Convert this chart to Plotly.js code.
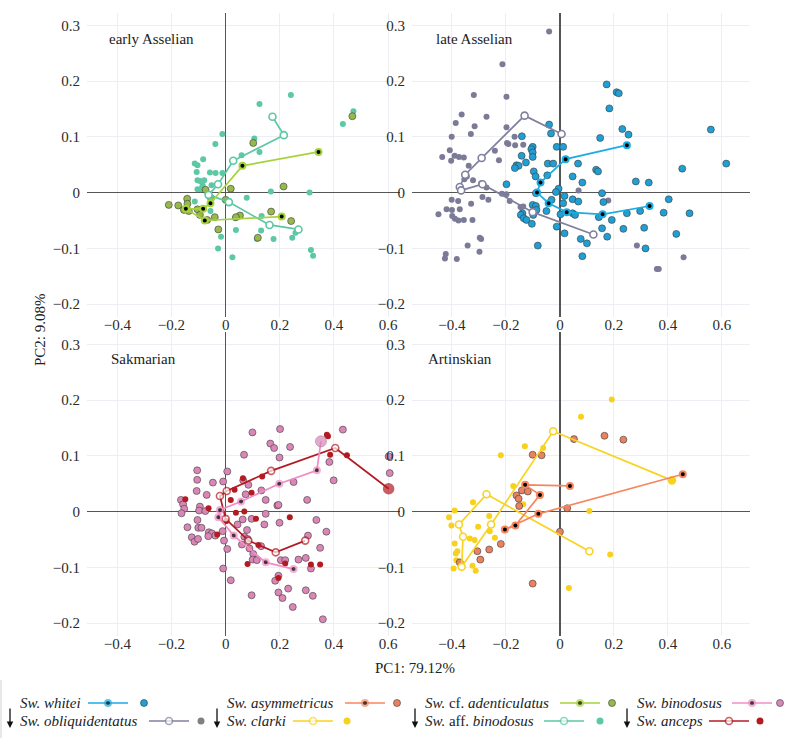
<!DOCTYPE html>
<html>
<head>
<meta charset="utf-8">
<script src="https://cdn.plot.ly/plotly-3.0.1.min.js"></script>
<style>
  html, body { margin: 0; padding: 0; background: #fff; }
  #chart { width: 797px; height: 738px; }
</style>
</head>
<body>
<div id="chart"></div>
<script>
// ---- early Asselian ----
const eaAdentTrajX = [0.343, 0.062, -0.056, -0.083, -0.147, -0.077, 0.207];
const eaAdentTrajY = [0.073, 0.048, -0.019, -0.029, -0.029, -0.050, -0.043];
const eaAdentPtsX = [0.468, 0.102, 0.214, 0.019, -0.074, 0.000, -0.054, -0.142, -0.141, -0.175, -0.210, -0.154, -0.136, -0.104, -0.095, -0.068, -0.040, -0.027, 0.053, 0.038, 0.168, 0.242, 0.119];
const eaAdentPtsY = [0.137, 0.089, 0.011, 0.007, 0.005, -0.013, -0.010, -0.011, -0.020, -0.023, -0.022, -0.031, -0.033, -0.030, -0.040, -0.049, -0.044, -0.066, -0.041, -0.044, -0.034, -0.051, -0.081];
const eaAffTrajX = [0.173, 0.215, 0.028, -0.028, -0.063, 0.012, 0.162, 0.269];
const eaAffTrajY = [0.136, 0.103, 0.057, 0.015, -0.004, -0.017, -0.058, -0.066];
const eaAffPtsX = [0.241, 0.125, 0.472, 0.433, -0.012, -0.038, -0.083, -0.114, -0.104, -0.107, -0.058, -0.037, -0.012, 0.059, 0.106, 0.125, -0.104, -0.095, -0.079, -0.085, -0.052, -0.104, -0.093, -0.114, -0.056, 0.078, 0.167, 0.310, 0.133, 0.131, 0.038, 0.035, 0.177, 0.246, 0.258, -0.017, -0.028, 0.025, 0.315, 0.323, 0.115];
const eaAffPtsY = [0.175, 0.159, 0.146, 0.123, 0.105, 0.087, 0.060, 0.052, 0.049, 0.037, 0.036, 0.035, 0.035, 0.067, 0.097, 0.073, 0.022, 0.021, 0.022, 0.013, 0.013, 0.006, 0.006, -0.016, -0.033, -0.009, 0.002, 0.000, -0.042, -0.068, -0.067, -0.046, -0.083, -0.081, -0.072, -0.079, -0.100, -0.116, -0.103, -0.113, -0.083];

// ---- late Asselian ----
const laWhiteiTrajX = [0.248, 0.021, -0.072, -0.085, -0.042, 0.025, 0.158, 0.332];
const laWhiteiTrajY = [0.085, 0.060, 0.018, 0.000, -0.019, -0.035, -0.039, -0.024];
const laObliqTrajX = [0.006, -0.131, -0.290, -0.351, -0.371, -0.366, -0.287, -0.101, 0.124];
const laObliqTrajY = [0.105, 0.138, 0.062, 0.032, 0.010, 0.004, 0.015, -0.035, -0.075];
const laObliqPtsX = [-0.040, -0.213, -0.198, -0.319, -0.364, -0.272, -0.198, -0.386, -0.401, -0.316, -0.330, -0.408, -0.436, -0.390, -0.374, -0.356, -0.403, -0.338, -0.345, -0.354, -0.322, -0.272, -0.292, -0.241, -0.226, -0.196, -0.191, -0.168, -0.166, -0.136, -0.198, -0.401, -0.377, -0.329, -0.265, -0.186, -0.450, -0.420, -0.400, -0.371, -0.399, -0.389, -0.376, -0.356, -0.324, -0.342, -0.297, -0.292, -0.298, -0.382, -0.423, -0.426, -0.215, -0.146, -0.287, 0.285, 0.359, 0.366, 0.458, 0.179, 0.069, -0.136];
const laObliqPtsY = [0.289, 0.230, 0.172, 0.175, 0.140, 0.136, 0.117, 0.125, 0.100, 0.119, 0.105, 0.076, 0.064, 0.066, 0.064, 0.063, 0.057, 0.048, 0.029, 0.024, 0.022, 0.009, 0.017, 0.075, 0.058, 0.089, 0.087, 0.100, 0.085, 0.086, -0.003, -0.013, -0.015, -0.020, -0.013, -0.015, -0.039, -0.030, -0.031, -0.030, -0.042, -0.047, -0.050, -0.049, -0.049, -0.095, -0.081, -0.083, -0.106, -0.119, -0.110, -0.118, -0.002, -0.026, -0.008, -0.095, -0.137, -0.137, -0.116, -0.014, 0.004, -0.025];
const laWhiteiPtsX = [0.173, 0.210, 0.218, 0.183, 0.231, 0.254, 0.559, 0.149, 0.616, 0.453, -0.040, -0.033, -0.141, -0.101, -0.106, -0.101, -0.101, -0.142, -0.161, -0.126, -0.153, -0.167, -0.198, -0.097, -0.090, -0.045, -0.025, -0.047, -0.012, 0.012, 0.067, 0.047, 0.083, 0.134, 0.141, 0.281, 0.329, -0.005, -0.089, -0.031, -0.101, -0.089, -0.099, -0.139, -0.145, -0.134, -0.124, -0.104, 0.002, -0.012, 0.017, 0.047, 0.047, 0.068, 0.156, 0.161, 0.144, 0.156, 0.192, 0.235, 0.175, 0.248, 0.297, 0.312, 0.384, 0.403, 0.431, 0.480, 0.317, 0.077, 0.100, 0.083, -0.082, -0.050, 0.017, 0.012, -0.015, 0.056, -0.087];
const laWhiteiPtsY = [0.194, 0.180, 0.178, 0.151, 0.114, 0.104, 0.113, 0.098, 0.052, 0.043, 0.122, 0.106, 0.101, 0.082, 0.078, 0.072, 0.064, 0.066, 0.049, 0.054, 0.048, 0.044, 0.015, 0.038, 0.029, 0.052, 0.052, 0.031, 0.082, 0.082, 0.052, 0.029, 0.018, 0.041, 0.038, 0.020, 0.018, 0.007, -0.001, -0.013, -0.022, -0.024, -0.040, -0.037, -0.040, -0.046, -0.049, -0.056, -0.039, -0.061, -0.073, -0.012, -0.037, -0.016, -0.001, -0.017, -0.044, -0.064, -0.049, -0.065, -0.079, -0.037, -0.033, -0.063, -0.036, -0.012, -0.074, -0.037, -0.100, -0.083, -0.091, -0.114, -0.095, -0.033, -0.006, -0.019, 0.001, -0.040, -0.031];

// ---- Sakmarian ----
const skBinodTrajX = [0.352, 0.337, 0.198, 0.057, -0.021, -0.027, 0.030, 0.148, 0.251];
const skBinodTrajY = [0.126, 0.074, 0.050, 0.018, 0.003, -0.010, -0.043, -0.091, -0.103];
const skAncepsTrajX = [0.602, 0.405, 0.168, 0.004, -0.021, 0.000, 0.084, 0.185, 0.294];
const skAncepsTrajY = [0.041, 0.114, 0.073, 0.037, 0.028, -0.013, -0.052, -0.073, -0.052];
const skBinodPtsX = [0.099, 0.201, 0.165, 0.179, 0.238, 0.433, 0.068, 0.199, 0.383, 0.399, 0.602, 0.606, -0.105, -0.105, -0.107, -0.070, -0.047, -0.009, 0.006, 0.084, 0.065, 0.074, 0.132, 0.148, 0.191, 0.251, 0.301, -0.165, -0.157, -0.153, -0.163, -0.095, -0.098, -0.075, -0.141, -0.125, -0.115, -0.102, -0.104, -0.101, -0.089, -0.062, -0.051, -0.038, -0.064, -0.011, 0.006, -0.006, -0.009, 0.019, 0.044, 0.063, 0.096, 0.079, 0.069, 0.081, 0.088, 0.060, 0.102, 0.100, 0.115, 0.131, 0.195, 0.199, 0.204, 0.220, 0.195, 0.183, 0.195, 0.210, 0.231, 0.248, 0.096, 0.296, 0.322, 0.359, 0.315, 0.304, 0.335, 0.349, 0.372, 0.296, 0.269, 0.143, 0.148];
const skBinodPtsY = [0.142, 0.148, 0.122, 0.114, 0.116, 0.147, 0.102, 0.097, 0.089, 0.056, 0.099, 0.069, 0.074, 0.057, 0.037, 0.030, 0.052, 0.054, 0.072, 0.048, 0.056, 0.031, 0.038, 0.021, 0.011, 0.053, 0.021, 0.021, 0.013, 0.005, -0.003, 0.009, 0.002, 0.001, -0.028, -0.046, -0.054, -0.049, -0.015, -0.029, -0.029, -0.037, -0.039, -0.043, -0.044, -0.035, -0.067, -0.052, -0.102, -0.123, -0.023, -0.014, -0.013, -0.033, -0.045, -0.049, -0.066, -0.059, -0.076, -0.086, -0.087, -0.062, 0.012, -0.020, -0.087, -0.087, -0.115, -0.124, -0.145, -0.155, -0.138, -0.171, -0.150, -0.141, -0.151, -0.193, -0.102, -0.043, -0.015, -0.065, -0.036, -0.083, -0.086, -0.023, -0.004];
const skAncepsPtsX = [0.374, 0.378, 0.386, 0.448, -0.149, -0.063, -0.031, 0.019, 0.033, 0.064, 0.096, 0.135, 0.069, 0.038, 0.112, 0.237, 0.121, 0.081, 0.195, 0.220, 0.315, 0.349, 0.003];
const skAncepsPtsY = [0.138, 0.135, 0.102, 0.101, 0.022, 0.006, -0.041, 0.021, 0.039, 0.060, 0.034, 0.063, 0.000, -0.002, -0.013, -0.010, -0.060, -0.094, -0.119, -0.093, -0.095, -0.095, -0.017];

// ---- Artinskian ----
const arAsymTrajX = [0.037, -0.129, -0.074, -0.165, -0.204, -0.080, 0.455];
const arAsymTrajY = [0.046, 0.048, 0.030, -0.025, -0.032, -0.004, 0.067];
const arClarkiTrajX = [0.109, -0.272, -0.374, -0.359, -0.364, -0.255, -0.025, 0.415];
const arClarkiTrajY = [-0.071, 0.031, -0.023, -0.045, -0.099, -0.023, 0.144, 0.056];
const arAsymPtsX = [0.052, 0.165, 0.235, -0.101, -0.068, -0.141, -0.161, -0.153, -0.151, -0.119, 0.027, 0.000, -0.219, -0.262, -0.306, -0.295, -0.371, -0.101];
const arAsymPtsY = [0.130, 0.136, 0.129, 0.102, 0.101, 0.038, 0.029, 0.023, 0.010, 0.036, 0.006, -0.036, -0.058, -0.068, -0.071, -0.086, -0.091, -0.129];
const arClarkiPtsX = [0.192, 0.078, -0.130, -0.062, -0.219, -0.173, -0.136, -0.322, -0.390, -0.411, -0.402, -0.262, -0.303, -0.260, -0.241, -0.390, -0.380, -0.386, -0.384, -0.394, -0.334, -0.316, -0.324, -0.312, 0.109, 0.186, 0.033];
const arClarkiPtsY = [0.201, 0.170, 0.117, 0.114, 0.101, 0.046, 0.013, 0.017, 0.002, -0.010, -0.025, -0.008, -0.027, -0.035, -0.047, -0.057, -0.071, -0.075, -0.087, -0.102, -0.048, -0.051, -0.097, -0.106, 0.001, -0.077, -0.137];

const xTicks = [-0.4, -0.2, 0, 0.2, 0.4, 0.6];
const yTicks = [-0.2, -0.1, 0, 0.1, 0.2, 0.3];
const panelNames = ['early Asselian', 'late Asselian', 'Sakmarian', 'Artinskian'];

// species styles: solid = black-dot trajectory + outlined points, open = open-circle trajectory
const sp = {
  whitei:   { name: '<i>Sw. whitei</i>', line: '#1aade4', pt: '#1f9fd4', solid: true },
  obliq:    { name: '<i>Sw. obliquidentatus</i>', line: '#80809e', pt: '#7b7b97', solid: false, legPt: '#808080' },
  asym:     { name: '<i>Sw. asymmetricus</i>', line: '#f7865f', pt: '#ea825f', solid: true },
  clarki:   { name: '<i>Sw. clarki</i>', line: '#f8d321', pt: '#f7d11c', solid: false },
  adent:    { name: '<i>Sw.</i> cf. <i>adenticulatus</i>', line: '#a6d33c', pt: '#97b84b', solid: true },
  aff:      { name: '<i>Sw.</i> aff. <i>binodosus</i>', line: '#5bc7a3', pt: '#5cc8a4', solid: false },
  binod:    { name: '<i>Sw. binodosus</i>', line: '#f28cc4', pt: '#da87b7', solid: true },
  anceps:   { name: '<i>Sw. anceps</i>', line: '#b31b22', pt: '#b31b22', solid: false }
};

function pts(s, x, y, ax) {
  const m = s.solid
    ? { size: 7, color: s.pt, line: { color: '#3c3c3c', width: 0.6 } }
    : { size: 6, color: s.pt, line: { width: 0 } };
  return { type: 'scatter', mode: 'markers', x: x, y: y, xaxis: 'x' + ax, yaxis: 'y' + ax,
           marker: m, showlegend: false, hoverinfo: 'skip', cliponaxis: false };
}
function traj(s, x, y, ax) {
  const m = s.solid
    ? { size: 6, color: '#000', line: { color: s.line, width: 2 } }
    : { size: 7, color: '#fff', line: { color: s.line, width: 1.6 } };
  return { type: 'scatter', mode: 'lines+markers', x: x, y: y, xaxis: 'x' + ax, yaxis: 'y' + ax,
           line: { color: s.line, width: 1.7 }, marker: m, showlegend: false, hoverinfo: 'skip' };
}

// Sakmarian trajectories start with a larger filled specimen
const skAnceps = traj(sp.anceps, skAncepsTrajX, skAncepsTrajY, '3');
skAnceps.marker.size = skAncepsTrajX.map((v, i) => i === 0 ? 10 : 7);
skAnceps.marker.color = skAncepsTrajX.map((v, i) => i === 0 ? sp.anceps.pt : '#fff');
const skBinod = traj(sp.binod, skBinodTrajX, skBinodTrajY, '3');
skBinod.marker.size = skBinodTrajX.map((v, i) => i === 0 ? 11 : 6);
skBinod.marker.color = skBinodTrajX.map((v, i) => i === 0 ? sp.binod.pt : '#000');
skBinod.marker.line = { color: skBinodTrajX.map((v, i) => i === 0 ? '#9a6f86' : sp.binod.line),
                        width: skBinodTrajX.map((v, i) => i === 0 ? 0.8 : 2) };

const data = [
  pts(sp.aff, eaAffPtsX, eaAffPtsY, ''),
  pts(sp.adent, eaAdentPtsX, eaAdentPtsY, ''),
  traj(sp.aff, eaAffTrajX, eaAffTrajY, ''),
  traj(sp.adent, eaAdentTrajX, eaAdentTrajY, ''),

  pts(sp.obliq, laObliqPtsX, laObliqPtsY, '2'),
  pts(sp.whitei, laWhiteiPtsX, laWhiteiPtsY, '2'),
  traj(sp.obliq, laObliqTrajX, laObliqTrajY, '2'),
  traj(sp.whitei, laWhiteiTrajX, laWhiteiTrajY, '2'),

  pts(sp.binod, skBinodPtsX, skBinodPtsY, '3'),
  pts(sp.anceps, skAncepsPtsX, skAncepsPtsY, '3'),
  skAnceps,
  skBinod,

  pts(sp.clarki, arClarkiPtsX, arClarkiPtsY, '4'),
  pts(sp.asym, arAsymPtsX, arAsymPtsY, '4'),
  traj(sp.clarki, arClarkiTrajX, arClarkiTrajY, '4'),
  traj(sp.asym, arAsymTrajX, arAsymTrajY, '4')
];
// clarki trajectory ends on a filled point
const arClarki = data[14];
arClarki.marker.color = arClarkiTrajX.map((v, i) => i === arClarkiTrajX.length - 1 ? sp.clarki.pt : '#fff');

// page pixels -> paper coords
const W = 797, H = 738;
const px = v => v / W;
const py = v => 1 - v / H;

const font = 'Liberation Serif, Times New Roman, serif';
function fmt(v) {
  if (v === 0) return '0';
  return (v < 0 ? '\u2212' : '') + Math.abs(v).toFixed(1);
}
function axisX(dom, rng, anchor) {
  return { domain: dom, range: rng, anchor: anchor, tickvals: xTicks, ticktext: xTicks.map(fmt),
           showgrid: true, gridcolor: '#eceef3', gridwidth: 1,
           zeroline: true, zerolinecolor: '#555', zerolinewidth: 1.4,
           showline: false, ticks: '', ticklabelstandoff: -3,
           tickfont: { family: font, size: 15, color: '#2b2b2b' } };
}
function axisY(dom, anchor) {
  return { domain: dom, range: [-0.223, 0.322], anchor: anchor, tickvals: yTicks, ticktext: yTicks.map(fmt),
           showgrid: true, gridcolor: '#eceef3', gridwidth: 1,
           zeroline: true, zerolinecolor: '#555', zerolinewidth: 1.4,
           showline: false, ticks: 'outside', ticklen: 3, tickcolor: 'rgba(0,0,0,0)',
           tickfont: { family: font, size: 15, color: '#2b2b2b' } };
}

const leftDom = [px(87), px(400)];
const rightDom = [px(412), px(750)];
const topDom = [py(317), py(13)];
const botDom = [py(636), py(332)];
const leftRange = [-0.512, 0.644];
const rightRange = [-0.548, 0.704];

const annotations = [];
const labelPos = [[107, 39], [434, 39], [109, 359], [426, 359]];
panelNames.forEach((t, i) => {
  annotations.push({ text: t, xref: 'paper', yref: 'paper', x: px(labelPos[i][0]), y: py(labelPos[i][1]),
    xanchor: 'left', yanchor: 'middle', showarrow: false, font: { family: font, size: 15, color: '#222' } });
});
annotations.push({ text: 'PC1: 79.12%', xref: 'paper', yref: 'paper', x: px(415), y: py(668),
  xanchor: 'center', yanchor: 'middle', showarrow: false, font: { family: font, size: 15, color: '#222' } });
annotations.push({ text: 'PC2: 9.08%', xref: 'paper', yref: 'paper', x: px(40), y: py(330), textangle: -90,
  xanchor: 'center', yanchor: 'middle', showarrow: false, font: { family: font, size: 15, color: '#222' } });

// legend layout (text x, row, line start, dot x)
const legendOrder = ['whitei', 'obliq', 'asym', 'clarki', 'adent', 'aff', 'binod', 'anceps'];
const legTextX = [18, 18, 225, 225, 423, 423, 635, 635];
const legLineX = [88, 149, 345, 293, 560, 544, 732, 709];
const legDotX = [144, 201, 397, 347, 612, 600, 780, 760];
const legRowY = [703, 721];
const arrowX = [10, 217, 415, 627];

legendOrder.forEach((k, i) => {
  const s = sp[k];
  const yy = legRowY[i % 2];
  annotations.push({ text: s.name, xref: 'paper', yref: 'paper', x: px(legTextX[i]), y: py(yy),
    xanchor: 'left', yanchor: 'middle', showarrow: false, font: { family: font, size: 15, color: '#222' } });
  const l = traj(s, [legLineX[i], legLineX[i] + 20, legLineX[i] + 40], [yy, yy, yy], '5');
  l.marker = Object.assign({}, l.marker);
  l.marker.size = [0, s.solid ? 6 : 7, 0];
  data.push(l);
  const d = pts(s, [legDotX[i]], [yy], '5');
  if (s.legPt) d.marker.color = s.legPt;
  d.marker.size = 7;
  data.push(d);
});
arrowX.forEach(x => {
  annotations.push({ xref: 'paper', yref: 'paper', x: px(x), y: py(728), ax: 0, ay: -21,
    text: '', showarrow: true, arrowhead: 2, arrowsize: 1, arrowwidth: 1.3, arrowcolor: '#111' });
});

const layout = {
  width: W, height: H,
  margin: { l: 0, r: 0, t: 0, b: 0 },
  paper_bgcolor: '#fff', plot_bgcolor: 'rgba(0,0,0,0)',
  showlegend: false,
  xaxis: axisX(leftDom, leftRange, 'y'),
  yaxis: axisY(topDom, 'x'),
  xaxis2: axisX(rightDom, rightRange, 'y2'),
  yaxis2: axisY(topDom, 'x2'),
  xaxis3: axisX(leftDom, leftRange, 'y3'),
  yaxis3: axisY(botDom, 'x3'),
  xaxis4: axisX(rightDom, rightRange, 'y4'),
  yaxis4: axisY(botDom, 'x4'),
  xaxis5: { domain: [0, 1], range: [0, W], visible: false, anchor: 'y5', fixedrange: true },
  yaxis5: { domain: [0, 1], range: [H, 0], visible: false, anchor: 'x5', fixedrange: true },
  annotations: annotations,
  shapes: [
    { type: 'line', xref: 'paper', yref: 'paper', x0: px(1), x1: px(1), y0: py(680), y1: py(738),
      line: { color: '#d0d0d0', width: 1 } }
  ]
};

Plotly.newPlot('chart', data, layout, { displayModeBar: false, staticPlot: true });
</script>
</body>
</html>
